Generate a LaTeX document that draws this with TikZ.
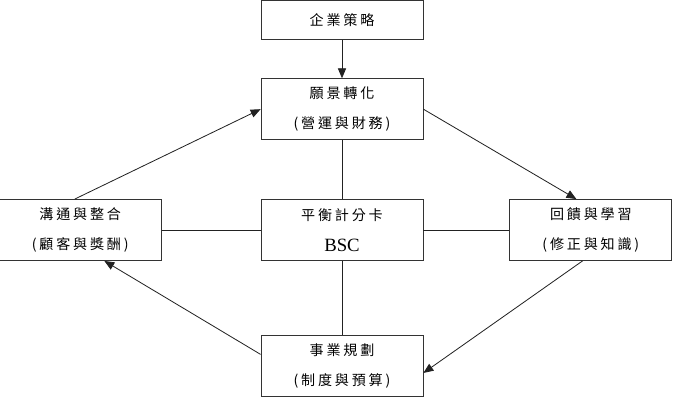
\documentclass[tikz,border=0pt]{standalone}
\usepackage{fontspec}
\setmainfont{Liberation Serif}
\newfontfamily\cjk[LetterSpace=20]{Noto Sans CJK TC}
\usetikzlibrary{positioning, arrows.meta, calc}
\definecolor{boxgray}{HTML}{333333}
\definecolor{linegray}{HTML}{222222}

\begin{document}
\begin{tikzpicture}[
    node distance=1.77cm and 2.97cm,
    >={Triangle[length=8.5pt, width=7pt]},
    every node/.style={font=\cjk\fontsize{12}{26}\selectfont},
    box/.style={
        draw=boxgray, minimum width=4.86cm, minimum height=#1,
        align=center, line width=0.7pt, inner sep=0pt
    },
    box/.default=1.83cm,
    link/.style={line width=0.7pt, color=linegray},
]
\useasboundingbox (-10.26,6.9) rectangle (9.93,-5.13);

% === Balanced Scorecard (center) ===
\node[box] (bsc) at (0,0)
    {平衡計分卡\\{\rmfamily\fontsize{16}{16}\selectfont BSC}};

% === Vision ===
\node[box, above=1.77cm of bsc] (vision)
    {願景轉化\\(營運與財務)};

% === Strategy ===
\node[box=1.17cm, above=1.14cm of vision] (strategy)
    {企業策略};

% === Communication ===
\node[box, left=2.97cm of bsc] (comm)
    {溝通與整合\\(顧客與獎酬)};

% === Feedback ===
\node[box, right=2.58cm of bsc] (feedback)
    {回饋與學習\\(修正與知識)};

% === Planning ===
\node[box, below=2.22cm of bsc] (plan)
    {事業規劃\\(制度與預算)};

% ===== CONNECTORS =====
\draw[->, link] (strategy) -- (vision);

\draw[link] (vision) -- (bsc);
\draw[link] (bsc) -- (plan);
\draw[link] (comm) -- (bsc);
\draw[link] (bsc) -- (feedback);

% cycle round the scorecard
\draw[->, link] (comm.100) -- (vision.west);
\draw[->, link] (vision.east) -- (feedback.115);
\draw[->, link] (feedback.255) -- (plan.-5);
\draw[->, link] (plan.172) -- (comm.-52);

\end{tikzpicture}
\end{document}
